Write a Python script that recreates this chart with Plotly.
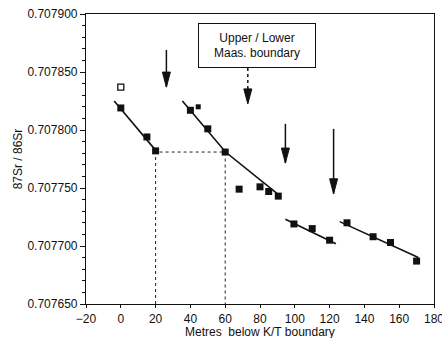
import plotly.graph_objects as go

# ---- data ----
open_x = [0]
open_y = [0.707837]

filled_x = [0, 15, 20, 40, 50, 60, 68, 80, 85, 90.5, 99.5, 110, 120, 130, 145, 155, 170]
filled_y = [0.707819, 0.707794, 0.707782, 0.707817, 0.707801, 0.707781, 0.707749,
            0.707751, 0.707747, 0.707743, 0.707719, 0.707715, 0.707705,
            0.707720, 0.707708, 0.707703, 0.707687]

small_x = [44.5]
small_y = [0.707820]

fit1_x = [-3.8, 20.3]
fit1_y = [0.707825, 0.707782]
fit2_x = [35.4, 60.2, 91.7]
fit2_y = [0.707825, 0.707781, 0.707743]
fit3_x = [94.6, 123.6]
fit3_y = [0.707723, 0.707702]
fit4_x = [125.8, 171.0]
fit4_y = [0.707721, 0.707690]

guide_x = [20, 20, 60, 60]
guide_y = [0.707650, 0.707781, 0.707781, 0.707650]

arrow_x = [26.2, 73.0, 94.6, 122.3]
arrow_top = [0.707869, 0.7078535, 0.7078053, 0.707801]
arrow_tip = [0.707837, 0.7078225, 0.7077715, 0.707745]
arrow_dash = ["solid", "dot", "solid", "solid"]

box_x = 78.4
box_y = 0.7078725
box_text = "Upper / Lower<br>Maas. boundary"

x_ticks = list(range(-20, 181, 20))

FONT = "Arial, Liberation Sans, Helvetica, sans-serif"

fig = go.Figure()

for fx, fy in [(fit1_x, fit1_y), (fit2_x, fit2_y), (fit3_x, fit3_y), (fit4_x, fit4_y)]:
    fig.add_trace(go.Scatter(x=fx, y=fy, mode="lines",
                             line=dict(color="#111", width=1.6), showlegend=False))

fig.add_trace(go.Scatter(x=guide_x, y=guide_y, mode="lines",
                         line=dict(color="#222", width=1, dash="dot"), showlegend=False))

fig.add_trace(go.Scatter(x=filled_x, y=filled_y, mode="markers",
                         marker=dict(symbol="square", size=7, color="#111"),
                         showlegend=False))
fig.add_trace(go.Scatter(x=small_x, y=small_y, mode="markers",
                         marker=dict(symbol="square", size=5, color="#111"),
                         showlegend=False))
fig.add_trace(go.Scatter(x=open_x, y=open_y, mode="markers",
                         marker=dict(symbol="square-open", size=6, color="#111",
                                     line=dict(width=1.3)),
                         showlegend=False))

# arrows: stems + pixel-sized triangular heads
for ax_, top, tip, dsh in zip(arrow_x, arrow_top, arrow_tip, arrow_dash):
    fig.add_shape(type="line", x0=ax_, x1=ax_, y0=top, y1=tip, xref="x", yref="y",
                  line=dict(color="#111", width=1.5, dash=dsh))
    fig.add_shape(type="path", xref="x", yref="y", xsizemode="pixel", ysizemode="pixel",
                  xanchor=ax_, yanchor=tip, path="M-4,15 L4,15 L0,0 Z",
                  fillcolor="#111", line=dict(color="#111", width=1))

fig.add_annotation(x=box_x, y=box_y, xref="x", yref="y", text=box_text, showarrow=False,
                   font=dict(family=FONT, size=12, color="#111"),
                   bordercolor="#111", borderwidth=1, borderpad=1,
                   bgcolor="white", width=114, height=41)

# x-axis title placed explicitly (paper coords)
fig.add_annotation(x=0.5, y=-0.095, xref="paper", yref="paper", yanchor="middle",
                   text="Metres  below K/T boundary", showarrow=False,
                   font=dict(family=FONT, size=12, color="#111"))

fig.update_layout(
    width=442, height=338,
    margin=dict(l=86, r=8, t=14, b=34),
    paper_bgcolor="white", plot_bgcolor="white",
    font=dict(family=FONT, size=12, color="#111"),
    xaxis=dict(range=[-20, 180], tickvals=x_ticks, showgrid=False, zeroline=False,
               showline=True, linecolor="#111", linewidth=1.2, mirror=True,
               ticks="outside", ticklen=3, tickcolor="#111", automargin=False,
               ticklabeloverflow="allow"),
    yaxis=dict(range=[0.70765, 0.7079], dtick=0.00005, tick0=0.70765, tickformat=".6f",
               showgrid=False, zeroline=False, automargin=False,
               showline=True, linecolor="#111", linewidth=1.2, mirror=True,
               ticks="outside", ticklen=5, tickcolor="#111",
               minor=dict(dtick=0.00001, ticks="outside", ticklen=3, tickcolor="#111"),
               title=dict(text="87Sr / 86Sr", standoff=2, font=dict(size=12))),
)

fig.write_html("out.html", config={"displayModeBar": False},
               post_script="document.body.style.margin='0';")
